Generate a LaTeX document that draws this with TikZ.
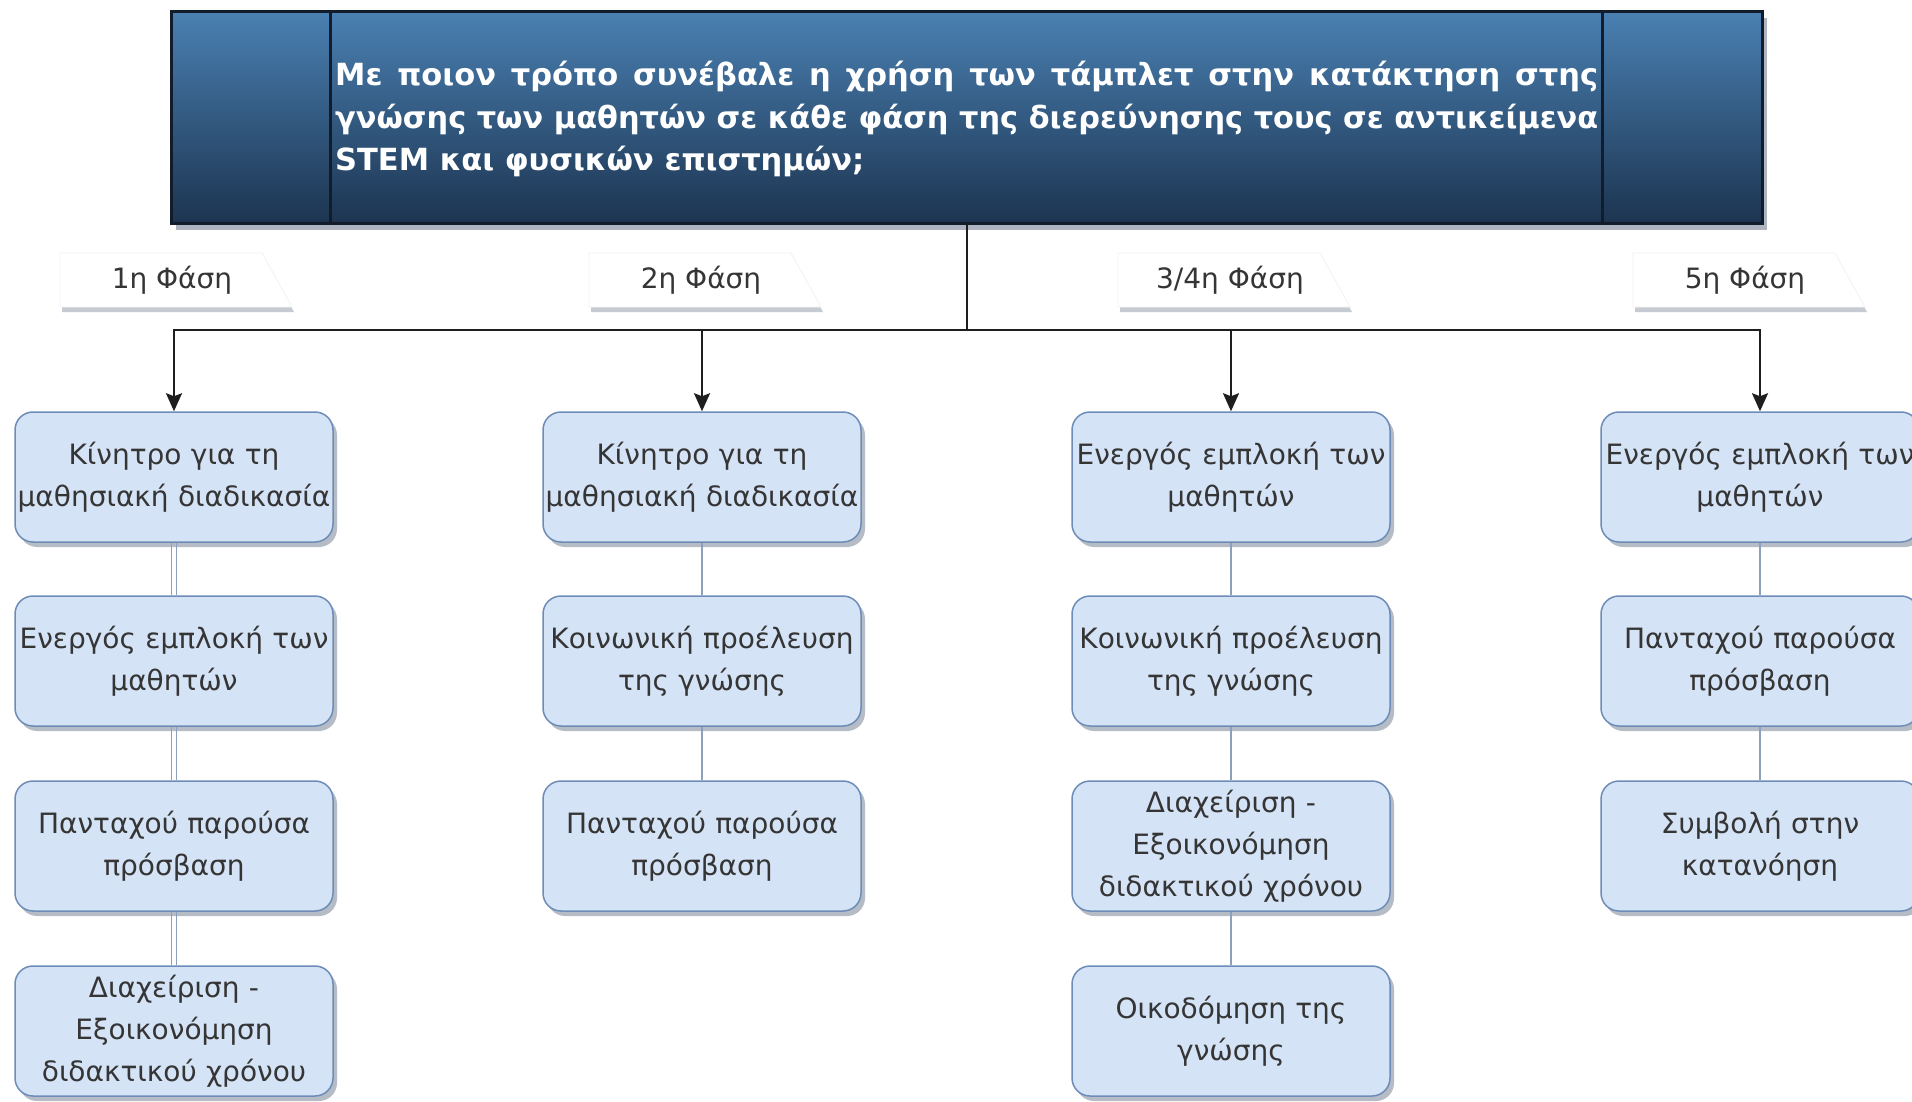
\documentclass[tikz,border=0pt]{standalone}
\usepackage{fontspec}
\setmainfont{DejaVu Sans}
\usetikzlibrary{shadows,arrows.meta,calc}

\definecolor{boxfill}{HTML}{D5E3F6}
\definecolor{boxline}{HTML}{6E8CB8}
\definecolor{linkline}{HTML}{8E9FBC}
\definecolor{ttltop}{HTML}{4A80B2}
\definecolor{ttlbot}{HTML}{1C3450}
\definecolor{ttledge}{HTML}{131C2A}
\definecolor{txt}{HTML}{353535}
\definecolor{busline}{HTML}{1E1E1E}
\definecolor{shade}{HTML}{5E6B82}

% one justified line of the question, squeezed only if it is too long
\newcommand\fitline[1]{\sbox0{#1}\ifdim\wd0>1263pt\relax\resizebox{1263pt}{\height}{#1}\else\makebox[1263pt][s]{#1}\fi}

\begin{document}
\begin{tikzpicture}[x=1pt,y=-1pt,
  item/.style={draw=boxline, line width=1.5pt, fill=boxfill, rounded corners=18pt,
    minimum width=318pt, minimum height=130pt, text width=318pt, inner xsep=0pt,
    inner ysep=0pt, align=center, text=txt,
    font=\fontsize{28pt}{42pt}\selectfont,
    drop shadow={shadow xshift=4pt, shadow yshift=-5pt, opacity=0.45, fill=shade}},
  tag/.style={fill=white, draw=gray!10, line width=0.8pt,
    drop shadow={shadow xshift=2pt, shadow yshift=-5pt, opacity=0.35, fill=shade}},
  phase/.style={inner sep=0pt, text=txt, font=\fontsize{28pt}{34pt}\selectfont},
  bus/.style={draw=busline, line width=2pt, -{Stealth[length=18pt, width=16pt, inset=3pt]}},
  link/.style={draw=linkline, line width=2.5pt}]

\useasboundingbox (0,0) rectangle (1912,1102);
\clip (0,0) rectangle (1912,1102);
\fill[white] (0,0) rectangle (1912,1102);

% the research question
\node[draw=ttledge, line width=3pt, top color=ttltop, bottom color=ttlbot,
  minimum width=1591pt, minimum height=212pt, inner sep=0pt,
  drop shadow={shadow xshift=5pt, shadow yshift=-6pt, opacity=0.5, fill=shade}]
  (q) at (966.5,118) {};
\draw[ttledge, line width=2.5pt] ($(q.north west)+(161,0)$) -- ($(q.south west)+(161,0)$);
\draw[ttledge, line width=2.5pt] ($(q.north east)+(-161,0)$) -- ($(q.south east)+(-161,0)$);
\node[anchor=base west, inner sep=0pt, text=white,
  font=\fontsize{30.5pt}{42.5pt}\selectfont\bfseries] (qt) at (335,86)
  {\parbox[t]{1263pt}{%
    \fitline{Με ποιον τρόπο συνέβαλε η χρήση των τάμπλετ στην κατάκτηση στης}\\
    \fitline{γνώσης των μαθητών σε κάθε φάση της διερεύνησης τους σε αντικείμενα}\\
    STEM και φυσικών επιστημών;}};

% phase tags
\foreach \c/\nm/\t in {172/p1/{1η Φάση}, 701/p2/{2η Φάση}, 1230/p3/{3/4η Φάση}, 1745/p4/{5η Φάση}}{
  \path[tag] (\c-112,253) -- (\c+90,253) -- (\c+120,307) -- (\c-112,307) -- cycle;
  \node[phase] (\nm) at (\c,280) {\t};
}

% phase columns
\node[item] (a1) at (174,477)  {Κίνητρο για τη\\μαθησιακή διαδικασία};
\node[item] (a2) at (174,661)  {Ενεργός εμπλοκή των\\μαθητών};
\node[item] (a3) at (174,846)  {Πανταχού παρούσα\\πρόσβαση};
\node[item] (a4) at (174,1031) {Διαχείριση -\\Εξοικονόμηση\\διδακτικού χρόνου};

\node[item] (b1) at (702,477)  {Κίνητρο για τη\\μαθησιακή διαδικασία};
\node[item] (b2) at (702,661)  {Κοινωνική προέλευση\\της γνώσης};
\node[item] (b3) at (702,846)  {Πανταχού παρούσα\\πρόσβαση};

\node[item] (c1) at (1231,477)  {Ενεργός εμπλοκή των\\μαθητών};
\node[item] (c2) at (1231,661)  {Κοινωνική προέλευση\\της γνώσης};
\node[item] (c3) at (1231,846)  {Διαχείριση -\\Εξοικονόμηση\\διδακτικού χρόνου};
\node[item] (c4) at (1231,1031) {Οικοδόμηση της\\γνώσης};

\node[item] (d1) at (1760,477)  {Ενεργός εμπλοκή των\\μαθητών};
\node[item] (d2) at (1760,661)  {Πανταχού παρούσα\\πρόσβαση};
\node[item] (d3) at (1760,846)  {Συμβολή στην\\κατανόηση};

% branching from the question to each phase
\coordinate (busy) at (0,330);
\foreach \n in {a1,b1,c1,d1}
  \draw[bus] (q.south) -- (q.south |- busy) -| (\n.north);

% links inside the columns
\foreach \u/\v in {a1/a2,a2/a3,a3/a4}{
  \draw[link, line width=1.8pt] ([xshift=-2.5pt]\u.south) -- ([xshift=-2.5pt]\v.north);
  \draw[link, line width=1.8pt] ([xshift=2.5pt]\u.south) -- ([xshift=2.5pt]\v.north);
}
\foreach \u/\v in {b1/b2,b2/b3,c1/c2,c2/c3,c3/c4,d1/d2,d2/d3}
  \draw[link] (\u.south) -- (\v.north);

\end{tikzpicture}
\end{document}
